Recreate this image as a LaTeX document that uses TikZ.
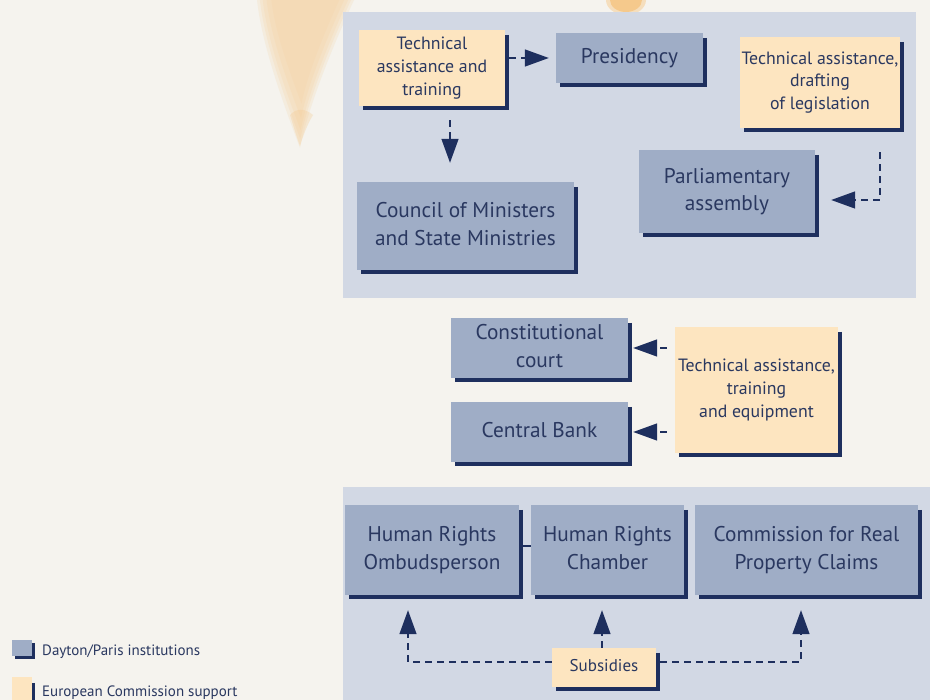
\documentclass[tikz,border=0pt]{standalone}
\usepackage{fontspec}
\setmainfont{PT Sans}
\usetikzlibrary{arrows.meta,calc}
\definecolor{bgc}{RGB}{245,243,238}
\definecolor{panelc}{RGB}{210,216,228}
\definecolor{boxc}{RGB}{159,173,198}
\definecolor{navy}{RGB}{30,47,94}
\definecolor{txt}{RGB}{42,56,96}
\definecolor{orgc}{RGB}{253,229,192}
\definecolor{stainc}{RGB}{244,200,140}
\definecolor{stainb}{RGB}{246,185,100}
\begin{document}
\begin{tikzpicture}[x=1pt,y=-1pt,
  inst/.style={fill=boxc, text=txt, align=center, inner sep=0pt, font=\fontsize{21.3}{27.5}\selectfont,
    execute at begin node=\vphantom{Hl}, execute at end node=\vphantom{gp}},
  ecbox/.style={fill=orgc, text=txt, align=center, inner sep=0pt, font=\fontsize{17.8}{22.8}\selectfont,
    execute at begin node=\vphantom{Hl}, execute at end node=\vphantom{gp}},
  shadowline/.style={draw=navy, line width=4pt, line join=miter},
  dasharrow/.style={draw=navy, line width=1.4pt, dash pattern=on 7pt off 5pt, -{Triangle[length=24pt,width=17pt]}},
  legtext/.style={anchor=west, text=txt, inner sep=0pt, font=\fontsize{15}{17}\selectfont}
]
\useasboundingbox (0,0) rectangle (930,700);
\clip (0,0) rectangle (930,700);
\fill[bgc] (0,0) rectangle (930,700);
% stains (soft, layered)
\foreach \s/\o in {1.0/0.16,0.94/0.16,0.88/0.16,0.8/0.14,0.7/0.12} {
  \begin{scope}[shift={(305,0)}, xscale=\s, yscale=\s]
    \fill[stainc, opacity=\o] (-48,0) .. controls (-43,45) and (-23,100) .. (-5,148) .. controls (1,118) and (17,70) .. (49,0) -- cycle;
  \end{scope}
}
\fill[stainc, opacity=0.3] (290,115) .. controls (294,128) and (297,138) .. (300,146) .. controls (303,136) and (307,125) .. (313,115) .. controls (305,108) and (296,108) .. (290,115) -- cycle;
\fill[stainb, opacity=0.35] (626,0) ellipse [x radius=20, y radius=15];
\fill[stainb, opacity=0.55] (626,0) ellipse [x radius=16, y radius=12];
% panels
\fill[panelc] (343,12) rectangle (916,298);
\fill[panelc] (343,487) rectangle (930,700);

% nodes
\node[ecbox, minimum width=146pt, minimum height=76pt] (ta1) at (432,68) {Technical\\assistance and\\training};
\node[inst, minimum width=147pt, minimum height=50pt] (pres) at (629.5,58) {Presidency};
\node[ecbox, minimum width=160pt, minimum height=91pt] (ta2) at (820,82.5) {Technical assistance,\\drafting\\of legislation};
\node[inst, minimum width=176pt, minimum height=83pt] (parl) at (727,191.5) {Parliamentary\\assembly};
\node[inst, minimum width=217pt, minimum height=88pt] (council) at (465.5,226) {Council of Ministers\\and State Ministries};
\node[inst, minimum width=177pt, minimum height=60pt] (court) at (539.5,348) {Constitutional\\court};
\node[inst, minimum width=177pt, minimum height=60pt] (bank) at (539.5,432) {Central Bank};
\node[ecbox, minimum width=163pt, minimum height=126pt] (ta3) at (756.5,390) {Technical assistance,\\training\\and equipment};
\node[inst, minimum width=174pt, minimum height=90pt] (hro) at (432,550) {Human Rights\\Ombudsperson};
\node[inst, minimum width=153pt, minimum height=90pt] (hrc) at (607.5,550) {Human Rights\\Chamber};
\node[inst, minimum width=223pt, minimum height=90pt] (comm) at (806.5,550) {Commission for Real\\Property Claims};
\node[ecbox, minimum width=104pt, minimum height=39pt, font=\fontsize{17}{20}\selectfont] (subs) at (604,667.5) {Subsidies};

\foreach \n in {ta1,pres,ta2,parl,council,court,bank,ta3,hro,hrc,comm,subs}
  \draw[shadowline] ([xshift=2pt,yshift=-5pt]\n.north east) -- ([xshift=2pt,yshift=-2pt]\n.south east) -- ([xshift=4pt,yshift=-2pt]\n.south west);

% connectors
\draw[dasharrow] ([xshift=4pt]ta1.east |- pres.west) -- ([xshift=-7pt]pres.west);
\coordinate (c1) at ($(ta1.south)+(18,14)$);
\coordinate (c1e) at ($(council.north)+(-15.5,-19)$);
\draw[dasharrow] (c1) -- (c1e);
\coordinate (c2) at ($(ta2.south)+(60,24)$);
\draw[dasharrow] (c2) |- ([xshift=16pt]parl.east |- 0,200);
\draw[dasharrow] ([xshift=-8pt]ta3.west |- court.east) -- ([xshift=5pt]court.east);
\draw[dasharrow] ([xshift=-8pt]ta3.west |- bank.east) -- ([xshift=5pt]bank.east);
\draw[navy, line width=1.5pt] ([xshift=4pt]hro.east |- 0,546) -- (hrc.west |- 0,546);
\coordinate (s1) at ($(hro.south)+(-24,15)$);
\coordinate (s3) at ($(comm.south)+(-5.5,15)$);
\draw[dasharrow] (subs.west |- 0,662) -| (s1);
\draw[dasharrow] ([xshift=4pt]subs.east |- 0,662) -| (s3);
\draw[dasharrow] ([xshift=-2pt]subs.north) -- ([xshift=-5.5pt,yshift=-15pt]hrc.south);

% legend
\node[fill=boxc, minimum width=20pt, minimum height=16pt, inner sep=0pt] (leg1) at (22,648) {};
\draw[draw=navy, line width=2.5pt] ([xshift=1.25pt,yshift=-3pt]leg1.north east) -- ([xshift=1.25pt,yshift=-1.25pt]leg1.south east) -- ([xshift=3pt,yshift=-1.25pt]leg1.south west);
\node[legtext] (leg1t) at (42,652) {Dayton/Paris institutions};
\node[fill=orgc, minimum width=20pt, minimum height=28pt, inner sep=0pt] (leg2) at (22,691) {};
\draw[draw=navy, line width=2.5pt] ([xshift=1.25pt,yshift=-6pt]leg2.north east) -- ([xshift=1.25pt,yshift=-1.25pt]leg2.south east);
\node[legtext] (leg2t) at (42,693) {European Commission support};
\end{tikzpicture}
\end{document}
